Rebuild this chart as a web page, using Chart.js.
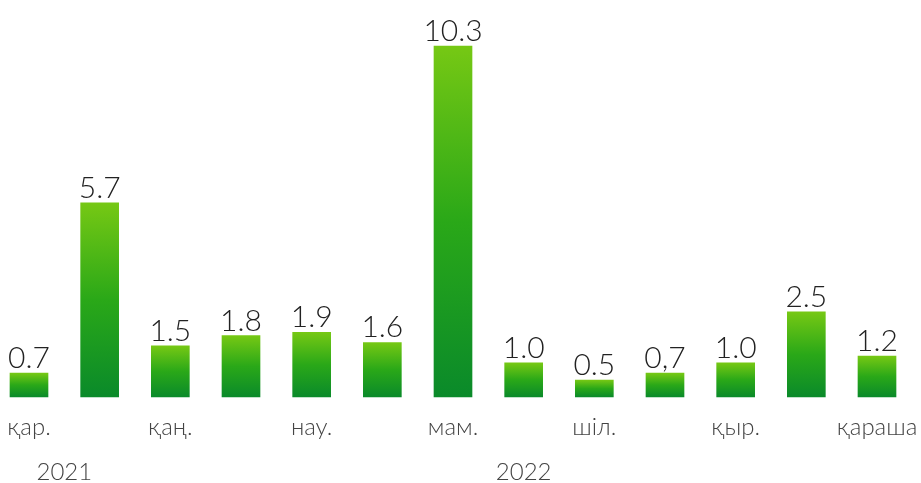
<!DOCTYPE html>
<html>
<head>
<meta charset="utf-8">
<script src="https://cdn.jsdelivr.net/npm/chart.js@4"></script>
<style>
  html, body { margin: 0; padding: 0; background: #fff; }
  #wrap { width: 921px; height: 483px; }
</style>
</head>
<body>
<div id="wrap"><canvas id="chart"></canvas></div>
<script>
// Données
const months = ['қар.', '', 'қаң.', '', 'нау.', '', 'мам.', '', 'шіл.', '', 'қыр.', '', 'қараша'];
const values = [0.7, 5.7, 1.5, 1.8, 1.9, 1.6, 10.3, 1.0, 0.5, 0.7, 1.0, 2.5, 1.2];
const valueLabels = ['0.7', '5.7', '1.5', '1.8', '1.9', '1.6', '10.3', '1.0', '0.5', '0,7', '1.0', '2.5', '1.2'];
const yearLabels = ['2021', '2022'];
const yearPositions = [0.5, 7]; // index de catégorie sous lequel l'année est centrée

const FONT = 'Lato, "Noto Sans", sans-serif';

// Dégradé vertical propre à chaque barre
function barGradient(context) {
    const chart = context.chart;
    if (!chart.chartArea) return '#2aa818';
    const y = chart.scales.y;
    const top = y.getPixelForValue(context.raw);
    const bottom = y.getPixelForValue(0);
    const g = chart.ctx.createLinearGradient(0, top, 0, bottom);
    g.addColorStop(0, '#76c814');
    g.addColorStop(0.5, '#2aa818');
    g.addColorStop(1, '#0a8a2a');
    return g;
}

// Valeurs au-dessus des barres + ligne des années sous l'axe
const labelsPlugin = {
    id: 'valueLabels',
    afterDatasetsDraw(chart) {
        const ctx = chart.ctx;
        const meta = chart.getDatasetMeta(0);
        ctx.save();
        ctx.font = '300 30px ' + FONT;
        ctx.fillStyle = '#222';
        ctx.textAlign = 'center';
        ctx.textBaseline = 'alphabetic';
        meta.data.forEach((bar, i) => {
            ctx.fillText(valueLabels[i], bar.x, bar.y - 5);
        });

        ctx.font = '300 24px ' + FONT;
        ctx.fillStyle = '#444';
        yearLabels.forEach((year, i) => {
            const x = chart.scales.x.getPixelForValue(yearPositions[i]);
            ctx.fillText(year, x, chart.chartArea.bottom + 83);
        });
        ctx.restore();
    }
};

new Chart(document.getElementById('chart'), {
    type: 'bar',
    data: {
        labels: months,
        datasets: [{
            data: values,
            backgroundColor: barGradient,
            barThickness: 38,
            clip: false,
        }],
    },
    options: {
        responsive: true,
        maintainAspectRatio: false,
        animation: false,
        layout: {
            padding: { top: 46, left: 29, right: 44, bottom: 0 },
        },
        plugins: {
            legend: { display: false },
            tooltip: { enabled: false },
        },
        scales: {
            x: {
                offset: false,
                grid: { display: false, drawTicks: false },
                border: { display: false },
                afterFit: (axis) => {
                    axis.height = 86;
                    axis.paddingLeft = 0;
                    axis.paddingRight = 0;
                },
                ticks: {
                    autoSkip: false,
                    maxRotation: 0,
                    padding: 16,
                    color: '#444',
                    font: { family: FONT, size: 24, weight: 300 },
                },
            },
            y: {
                display: false,
                min: 0,
                max: 10.3,
            },
        },
    },
    plugins: [labelsPlugin],
});
</script>
</body>
</html>
